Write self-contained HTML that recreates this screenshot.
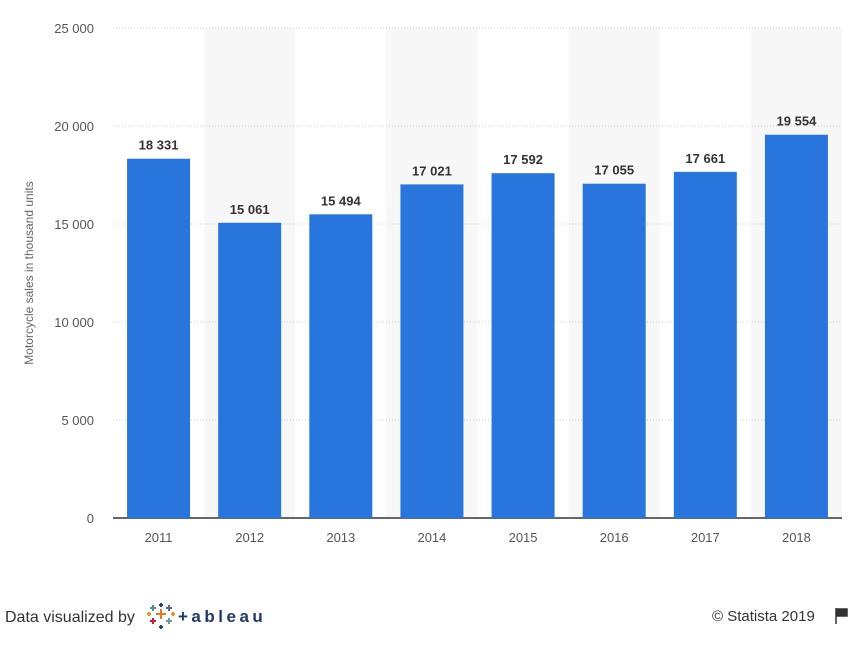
<!DOCTYPE html>
<html><head><meta charset="utf-8"><style>
body{margin:0;background:#fff;font-family:"Liberation Sans",sans-serif;}
</style></head><body>
<svg id="c" width="866" height="647" xmlns="http://www.w3.org/2000/svg">
<g id="bands"></g><g id="grid"></g><g id="bars"></g><g id="labels"></g>
<text x="33" y="273" transform="rotate(-90 33 273)" text-anchor="middle" font-size="12" fill="#666">Motorcycle sales in thousand units</text>
<text x="5" y="622" font-size="16" fill="#333">Data visualized by</text>
<g stroke-width="2">
<path d="M161 609v10M156 614h10" stroke="#e8762b"/>
<path d="M153 605v6M150 608h6" stroke="#59879b"/>
<path d="M169 605v6M166 608h6" stroke="#5b6591"/>
<path d="M153 618v6M150 621h6" stroke="#c72035"/>
<path d="M169 618v6M166 621h6" stroke="#7099a6"/>
<path d="M161 603v4M159 605h4M161 625v4M159 627h4" stroke="#1f457e"/>
<path d="M149 612v4M147 614h4M173 612v4M171 614h4" stroke="#eb912b"/>
<text x="178" y="622" font-size="17" fill="#1f3a66" stroke="none" letter-spacing="3.5" font-weight="bold">+ableau</text>
</g>
<text x="712" y="621" font-size="15" fill="#333">© Statista 2019</text>
<path d="M836 608v16M837 609h10v7h-10z" stroke="#333" fill="#333" stroke-width="1.5"/>
</svg>
<script>
const categories=["2011","2012","2013","2014","2015","2016","2017","2018"];
const values=[18331,15061,15494,17021,17592,17055,17661,19554];
const valueLabels=["18 331","15 061","15 494","17 021","17 592","17 055","17 661","19 554"];
const ticks=[0,5000,10000,15000,20000,25000];
const tickLabels=["0","5 000","10 000","15 000","20 000","25 000"];
const NS="http://www.w3.org/2000/svg";
const L=113,R=842,T=28,B=518,MAX=25000;
const bw=(R-L)/categories.length;
const y=v=>B-(v/MAX)*(B-T);
const x=i=>L+i*bw;
function mk(p,tag,a){const e=document.createElementNS(NS,tag);for(const k in a)e.setAttribute(k,a[k]);document.getElementById(p).appendChild(e);return e;}
categories.forEach((c,i)=>{
 if(i%2==1){const b=mk("bands","rect",{x:x(i),y:T,width:bw,height:B-T,fill:"#f7f7f7"});
 
 }
});
ticks.forEach((t,i)=>{
 if(t>0){const g=mk("grid","line",{x1:L,x2:R,y1:y(t),y2:y(t),stroke:"#ccc","stroke-dasharray":"1,2"});
 
 }
 const tx=mk("grid","text",{x:94,y:y(t)+5,"text-anchor":"end","font-size":"13",fill:"#555"});
 tx.textContent=tickLabels[i];
 
 
});
const ax=mk("grid","line",{x1:L,x2:R,y1:B,y2:B,stroke:"#333","stroke-width":"1.5"});


categories.forEach((c,i)=>{
 const cx=x(i)+bw/2;
 const r=mk("bars","rect",{x:cx-31.5,y:y(values[i]),width:63,height:B-y(values[i]),fill:"#2876dd"});
 
 
 const v=mk("labels","text",{x:cx,y:y(values[i])-9,"text-anchor":"middle","font-size":"13","font-weight":"bold",fill:"#333"});
 v.textContent=valueLabels[i];
 
 
 const t=mk("labels","text",{x:cx,y:542,"text-anchor":"middle","font-size":"13",fill:"#555"});
 t.textContent=c;
 
 
});
</script>
</body></html>
